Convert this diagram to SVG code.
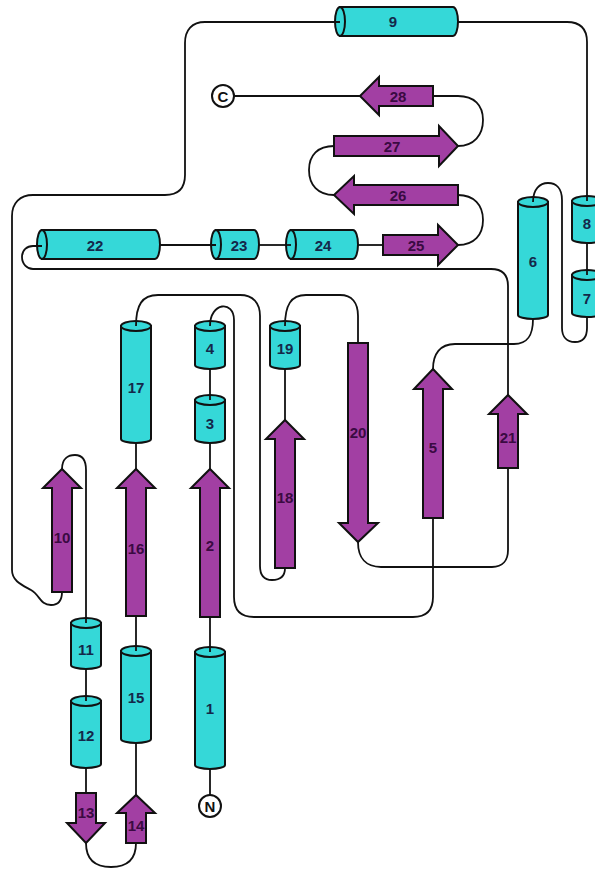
<svg xmlns="http://www.w3.org/2000/svg" width="595" height="869" viewBox="0 0 595 869">
<style>
.h{fill:#35D8D8;stroke:#111;stroke-width:2}
.s{fill:#A23FA3;stroke:#111;stroke-width:2;stroke-linejoin:miter}
.c{fill:none;stroke:#111;stroke-width:1.8}
.t{font-family:"Liberation Sans",Arial,sans-serif;font-weight:bold;font-size:15px;text-anchor:middle;dominant-baseline:central}
.ht{fill:#14284a}
.st{fill:#3a0a42}
.term{fill:#fff;stroke:#111;stroke-width:2}
</style>
<rect width="595" height="869" fill="#fff"/>
<!-- helices (vertical) -->
<g id="h1"><path class="h" d="M195,652 L195,765 A15,4 0 0 0 225,765 L225,652 Z"/><ellipse class="h" cx="210" cy="652" rx="15" ry="5"/><text class="t ht" x="210" y="708">1</text></g>
<g id="h3"><path class="h" d="M195,400 L195,439 A15,4 0 0 0 225,439 L225,400 Z"/><ellipse class="h" cx="210" cy="400" rx="15" ry="5"/><text class="t ht" x="210" y="423">3</text></g>
<g id="h4"><path class="h" d="M195,326 L195,365 A15,4 0 0 0 225,365 L225,326 Z"/><ellipse class="h" cx="210" cy="326" rx="15" ry="5"/><text class="t ht" x="210" y="348">4</text></g>
<g id="h6"><path class="h" d="M518,202 L518,315 A15,4 0 0 0 548,315 L548,202 Z"/><ellipse class="h" cx="533" cy="202" rx="15" ry="5"/><text class="t ht" x="533" y="261">6</text></g>
<g id="h7"><path class="h" d="M572,275 L572,313 A15,4 0 0 0 602,313 L602,275 Z"/><ellipse class="h" cx="587" cy="275" rx="15" ry="5"/><text class="t ht" x="587" y="298">7</text></g>
<g id="h8"><path class="h" d="M572,201 L572,239 A15,4 0 0 0 602,239 L602,201 Z"/><ellipse class="h" cx="587" cy="201" rx="15" ry="5"/><text class="t ht" x="587" y="223">8</text></g>
<g id="h11"><path class="h" d="M71,623 L71,665 A15,4 0 0 0 101,665 L101,623 Z"/><ellipse class="h" cx="86" cy="623" rx="15" ry="5"/><text class="t ht" x="86" y="649">11</text></g>
<g id="h12"><path class="h" d="M71,701 L71,764 A15,4 0 0 0 101,764 L101,701 Z"/><ellipse class="h" cx="86" cy="701" rx="15" ry="5"/><text class="t ht" x="86" y="735">12</text></g>
<g id="h15"><path class="h" d="M121,651 L121,739 A15,4 0 0 0 151,739 L151,651 Z"/><ellipse class="h" cx="136" cy="651" rx="15" ry="5"/><text class="t ht" x="136" y="697">15</text></g>
<g id="h17"><path class="h" d="M121,326 L121,439 A15,4 0 0 0 151,439 L151,326 Z"/><ellipse class="h" cx="136" cy="326" rx="15" ry="5"/><text class="t ht" x="136" y="387">17</text></g>
<g id="h19"><path class="h" d="M270,326 L270,365 A15,4 0 0 0 300,365 L300,326 Z"/><ellipse class="h" cx="285" cy="326" rx="15" ry="5"/><text class="t ht" x="285" y="348">19</text></g>
<!-- helices (horizontal) -->
<g id="h9"><path class="h" d="M340,7 L453,7 A5,14.5 0 0 1 453,36 L340,36 Z"/><ellipse class="h" cx="340" cy="21.5" rx="5" ry="14.5"/><text class="t ht" x="393" y="21.5">9</text></g>
<g id="h22"><path class="h" d="M42,230 L155,230 A5,14.5 0 0 1 155,259 L42,259 Z"/><ellipse class="h" cx="42" cy="244.5" rx="5" ry="14.5"/><text class="t ht" x="95" y="245">22</text></g>
<g id="h23"><path class="h" d="M216,230 L254,230 A5,14.5 0 0 1 254,259 L216,259 Z"/><ellipse class="h" cx="216" cy="244.5" rx="5" ry="14.5"/><text class="t ht" x="239" y="245">23</text></g>
<g id="h24"><path class="h" d="M291,230 L353,230 A5,14.5 0 0 1 353,259 L291,259 Z"/><ellipse class="h" cx="291" cy="244.5" rx="5" ry="14.5"/><text class="t ht" x="323" y="245">24</text></g>
<!-- strands -->
<g id="s2"><polygon class="s" points="200,617 200,488 191,488 210,469 229,488 220,488 220,617"/><text class="t st" x="210" y="545">2</text></g>
<g id="s5"><polygon class="s" points="423,518 423,389 414,389 433,369 452,389 443,389 443,518"/><text class="t st" x="433" y="447">5</text></g>
<g id="s10"><polygon class="s" points="52,592 52,488 43,488 62,469 81,488 72,488 72,592"/><text class="t st" x="62" y="537">10</text></g>
<g id="s13"><polygon class="s" points="76,793 96,793 96,823 105,823 86,843 67,823 76,823"/><text class="t st" x="86" y="812">13</text></g>
<g id="s14"><polygon class="s" points="126,843 126,813 117,813 136,795 155,813 146,813 146,843"/><text class="t st" x="136" y="825">14</text></g>
<g id="s16"><polygon class="s" points="126,616 126,488 117,488 136,469 155,488 146,488 146,616"/><text class="t st" x="136" y="548">16</text></g>
<g id="s18"><polygon class="s" points="275,568 275,439 266,439 285,420 304,439 295,439 295,568"/><text class="t st" x="285" y="497">18</text></g>
<g id="s20"><polygon class="s" points="348,343 368,343 368,523 378,523 358,542 339,523 348,523"/><text class="t st" x="358" y="432">20</text></g>
<g id="s21"><polygon class="s" points="498,468 498,414 489,414 508,395 527,414 518,414 518,468"/><text class="t st" x="508" y="437">21</text></g>
<g id="s25"><polygon class="s" points="383,235 438,235 438,225 458,245 438,265 438,255 383,255"/><text class="t st" x="416" y="245">25</text></g>
<g id="s26"><polygon class="s" points="458,185 354,185 354,176 334,195 354,214 354,205 458,205"/><text class="t st" x="398" y="195">26</text></g>
<g id="s27"><polygon class="s" points="334,136 439,136 439,126 458,146 439,166 439,156 334,156"/><text class="t st" x="392" y="146">27</text></g>
<g id="s28"><polygon class="s" points="433,86 379,86 379,77 360,96 379,115 379,106 433,106"/><text class="t st" x="398" y="96">28</text></g>
<!-- termini -->
<g id="N"><circle class="term" cx="210" cy="806" r="11"/><text class="t" x="210" y="806" fill="#111">N</text></g>
<g id="C"><circle class="term" cx="223" cy="96" r="11"/><text class="t" x="223" y="96" fill="#111">C</text></g>
<!-- connectors -->
<g id="connectors">
<path class="c" d="M210,795 L210,769"/>
<path class="c" d="M210,652 L210,617"/>
<path class="c" d="M210,469 L210,443"/>
<path class="c" d="M210,400 L210,369"/>
<path class="c" d="M210,326 C210,302 234,300 234,320 L234,597 C234,610 240,617 254,617 L413,617 C427,617 433,610 433,597 L433,518"/>
<path class="c" d="M433,369 C433,354 440,344 455,344 L514,344 C528,344 533,335 533,319"/>
<path class="c" d="M533,202 C533,189 540,183 548,183 C556,183 562,188 562,200 L562,328 C562,337 567,342 575,342 C583,342 587,337 587,328 L587,317"/>
<path class="c" d="M587,275 L587,243"/>
<path class="c" d="M587,201 L587,42 C587,29 580,22 567,22 L458,22"/>
<path class="c" d="M340,22 L205,22 C192,22 185,30 185,43 L185,175 C185,188 178,195 165,195 L33,195 C20,195 12,203 12,216 L12,570 C12,581 22,585 31,590 C40,595 40,605 51,605 C59,605 62,600 62,592"/>
<path class="c" d="M62,469 C62,459 68,455 75,455 C82,455 86,460 86,470 L86,623"/>
<path class="c" d="M86,669 L86,701"/>
<path class="c" d="M86,768 L86,793"/>
<path class="c" d="M86,843 C86,860 96,867 111,867 C126,867 136,860 136,843"/>
<path class="c" d="M136,795 L136,743"/>
<path class="c" d="M136,651 L136,616"/>
<path class="c" d="M136,469 L136,443"/>
<path class="c" d="M136,326 C136,305 142,295 158,295 L240,295 C253,295 260,303 260,316 L260,566 C260,575 264,580 272,580 C280,580 285,576 285,568"/>
<path class="c" d="M285,420 L285,369"/>
<path class="c" d="M285,326 C285,305 291,295 306,295 L340,295 C352,295 358,303 358,316 L358,343"/>
<path class="c" d="M358,542 C358,558 366,567 381,567 L492,567 C503,567 508,560 508,550 L508,468"/>
<path class="c" d="M508,395 L508,286 C508,275 502,269 491,269 L33,269 C27,269 22,264 22,257 C22,250 27,246 33,246 L42,246"/>
<path class="c" d="M160,245 L216,245"/>
<path class="c" d="M259,245 L291,245"/>
<path class="c" d="M358,245 L383,245"/>
<path class="c" d="M458,245 C474,245 483,235 483,220 C483,205 474,195 458,195"/>
<path class="c" d="M334,195 C318,195 309,185 309,170 C309,155 318,146 334,146"/>
<path class="c" d="M458,146 C474,146 483,135 483,120 C483,105 474,96 458,96 L433,96"/>
<path class="c" d="M360,96 L234,96"/>
</g>
</svg>
